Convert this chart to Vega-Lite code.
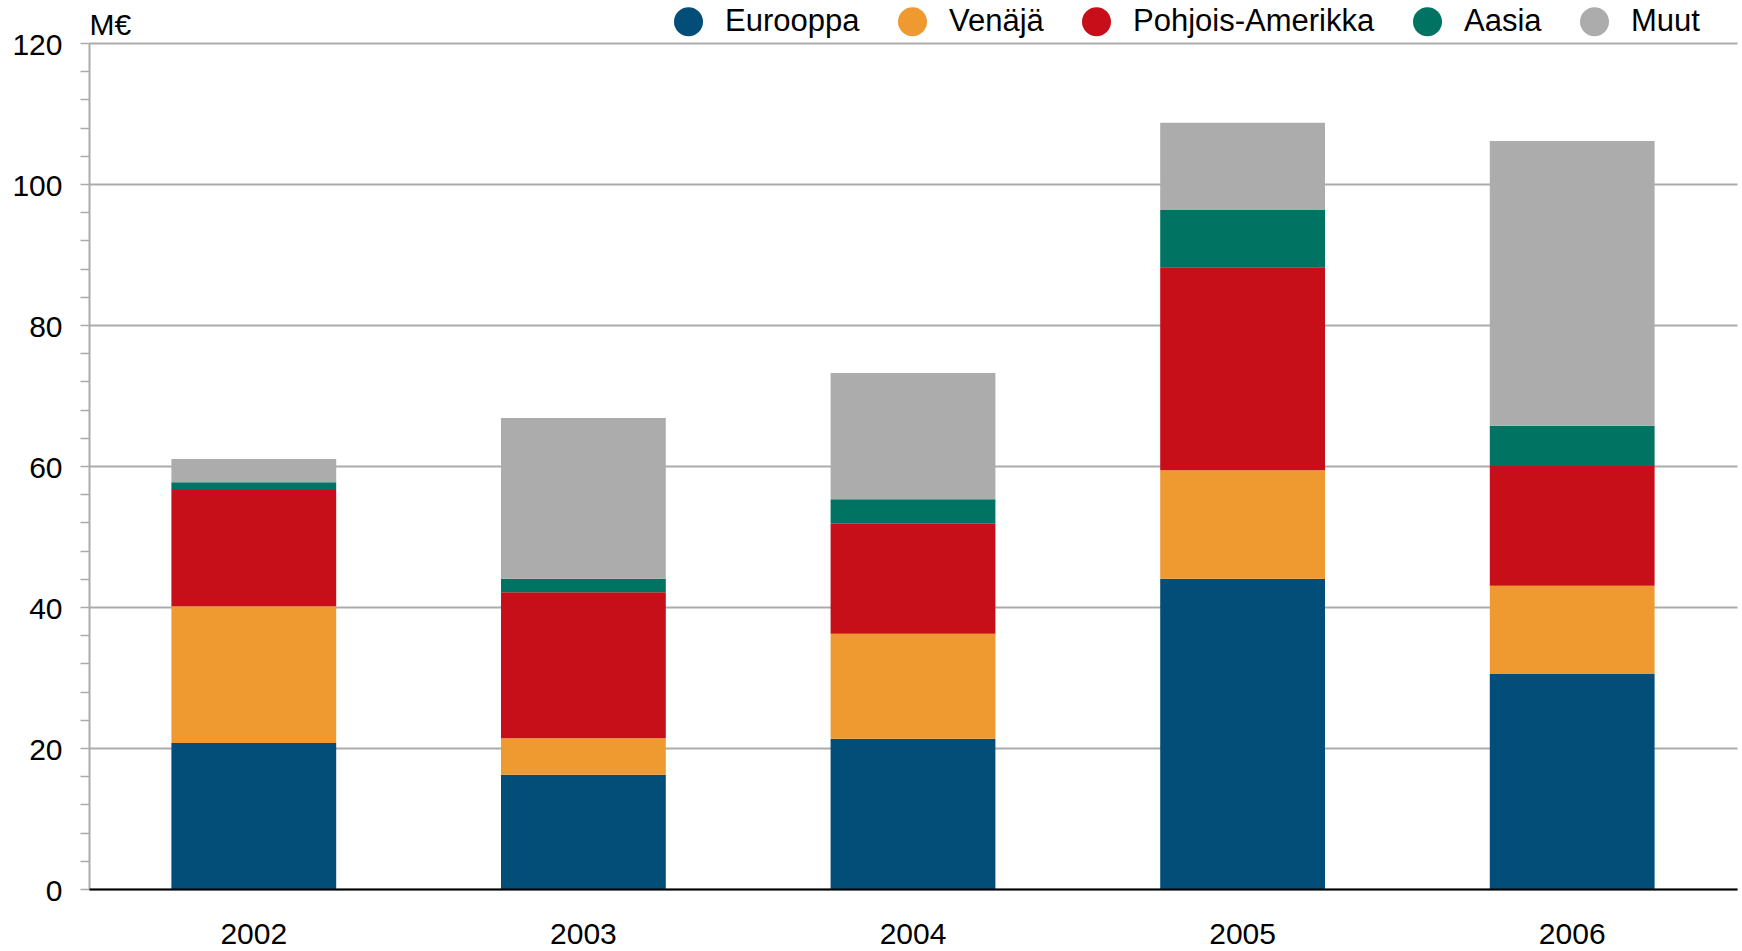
{
  "$schema": "https://vega.github.io/schema/vega-lite/v6.json",
  "width": 1648,
  "height": 846,
  "autosize": {"type": "none"},
  "padding": {"left": 89, "top": 43, "right": 5, "bottom": 62},
  "background": "white",
  "config": {"view": {"stroke": null}, "font": "Liberation Sans"},
  "data": {
    "values": [
      {"year": "2002", "region": "Eurooppa", "n": 1, "value": 20.7},
      {"year": "2002", "region": "Venäjä", "n": 2, "value": 19.4},
      {"year": "2002", "region": "Pohjois-Amerikka", "n": 3, "value": 16.5},
      {"year": "2002", "region": "Aasia", "n": 4, "value": 1.1},
      {"year": "2002", "region": "Muut", "n": 5, "value": 3.3},
      {"year": "2003", "region": "Eurooppa", "n": 1, "value": 16.2},
      {"year": "2003", "region": "Venäjä", "n": 2, "value": 5.2},
      {"year": "2003", "region": "Pohjois-Amerikka", "n": 3, "value": 20.7},
      {"year": "2003", "region": "Aasia", "n": 4, "value": 1.9},
      {"year": "2003", "region": "Muut", "n": 5, "value": 22.8},
      {"year": "2004", "region": "Eurooppa", "n": 1, "value": 21.3},
      {"year": "2004", "region": "Venäjä", "n": 2, "value": 14.9},
      {"year": "2004", "region": "Pohjois-Amerikka", "n": 3, "value": 15.6},
      {"year": "2004", "region": "Aasia", "n": 4, "value": 3.5},
      {"year": "2004", "region": "Muut", "n": 5, "value": 17.9},
      {"year": "2005", "region": "Eurooppa", "n": 1, "value": 44.0},
      {"year": "2005", "region": "Venäjä", "n": 2, "value": 15.4},
      {"year": "2005", "region": "Pohjois-Amerikka", "n": 3, "value": 28.8},
      {"year": "2005", "region": "Aasia", "n": 4, "value": 8.1},
      {"year": "2005", "region": "Muut", "n": 5, "value": 12.4},
      {"year": "2006", "region": "Eurooppa", "n": 1, "value": 30.5},
      {"year": "2006", "region": "Venäjä", "n": 2, "value": 12.5},
      {"year": "2006", "region": "Pohjois-Amerikka", "n": 3, "value": 17.0},
      {"year": "2006", "region": "Aasia", "n": 4, "value": 5.7},
      {"year": "2006", "region": "Muut", "n": 5, "value": 40.4}
    ]
  },
  "mark": {"type": "bar"},
  "encoding": {
    "x": {
      "field": "year",
      "type": "ordinal",
      "scale": {"paddingInner": 0.5, "paddingOuter": 0.25},
      "axis": {
        "title": null,
        "labelAngle": 0,
        "labelFont": "Liberation Sans",
        "labelFontSize": 30,
        "labelColor": "black",
        "ticks": false,
        "tickSize": 0,
        "labelPadding": 30,
        "domainColor": "black",
        "domainWidth": 2,
        "grid": false,
        "zindex": 1
      }
    },
    "y": {
      "field": "value",
      "type": "quantitative",
      "stack": "zero",
      "scale": {"domain": [0, 120], "nice": false},
      "axis": {
        "title": "M€",
        "titleAngle": 0,
        "titleX": 0,
        "titleY": -9,
        "titleAlign": "left",
        "titleBaseline": "alphabetic",
        "titleFont": "Liberation Sans",
        "titleFontSize": 30,
        "titleFontWeight": "normal",
        "titleColor": "black",
        "values": [0, 4, 8, 12, 16, 20, 24, 28, 32, 36, 40, 44, 48, 52, 56, 60, 64, 68, 72, 76, 80, 84, 88, 92, 96, 100, 104, 108, 112, 116, 120],
        "labelExpr": "datum.value % 20 === 0 ? datum.label : ''",
        "labelFont": "Liberation Sans",
        "labelFontSize": 30,
        "labelColor": "black",
        "labelPadding": 18,
        "labelOffset": 2,
        "tickSize": 9,
        "tickColor": "#ababab",
        "tickWidth": 1.5,
        "domainColor": "#ababab",
        "domainWidth": 2,
        "grid": true,
        "gridColor": "#ababab",
        "gridWidth": 2,
        "gridOpacity": {"condition": {"test": "datum.value % 20 === 0", "value": 1}, "value": 0}
      }
    },
    "color": {
      "field": "region",
      "type": "nominal",
      "scale": {
        "domain": ["Eurooppa", "Venäjä", "Pohjois-Amerikka", "Aasia", "Muut"],
        "range": ["#024e79", "#ee9a30", "#c60f19", "#007362", "#acacac"]
      },
      "legend": {
        "orient": "none",
        "legendX": 584,
        "legendY": -37,
        "direction": "horizontal",
        "columns": 5,
        "title": null,
        "symbolType": "circle",
        "symbolSize": 841,
        "symbolStrokeWidth": 0,
        "symbolOpacity": 1,
        "labelFont": "Liberation Sans",
        "labelFontSize": 31,
        "labelColor": "black",
        "labelOffset": 21,
        "labelLimit": 400,
        "columnPadding": 37,
        "padding": 0
      }
    },
    "order": {"field": "n", "type": "quantitative"}
  }
}
